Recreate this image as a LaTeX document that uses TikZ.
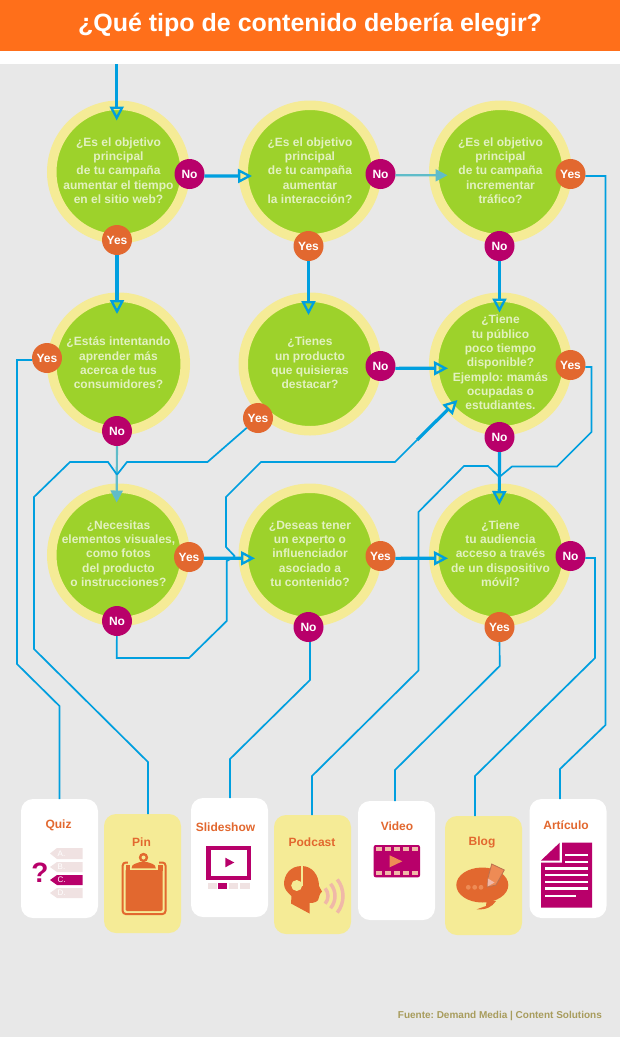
\documentclass[tikz,border=0pt]{standalone}
\usepackage{fontspec}
\setmainfont{Liberation Sans}
\frenchspacing
\usetikzlibrary{arrows.meta}
\definecolor{linkblue}{HTML}{009FDF}
\definecolor{linkteal}{HTML}{5FBCC9}
\definecolor{barorange}{HTML}{FF6F1A}
\definecolor{paper}{HTML}{E8E8E8}
\definecolor{leaf}{HTML}{9DD22B}
\definecolor{ring}{HTML}{F5EB96}
\definecolor{magenta}{HTML}{B8006A}
\definecolor{rust}{HTML}{E2682F}
\definecolor{paletag}{HTML}{F0E2E2}
\definecolor{peach}{HTML}{F0B8A8}
\definecolor{soft}{HTML}{EE8B55}
\definecolor{source}{HTML}{A89C5C}
\tikzset{
  ask/.style={circle,fill=leaf,draw=ring,line width=9.5pt,minimum size=133.5pt,inner sep=0pt,outer sep=0pt},
  asktext/.style={align=center,text=leaf!30!white,font=\fontsize{12}{14.33}\selectfont\bfseries,inner sep=0pt},
  yes/.style={circle,fill=rust,text=white,minimum size=30pt,inner sep=0pt,outer sep=0pt,font=\fontsize{12}{14}\selectfont\bfseries},
  no/.style={yes,fill=magenta},
  whitecard/.style={rectangle,rounded corners=12pt,fill=white,minimum width=77pt,minimum height=119pt,inner sep=0pt,outer sep=0pt},
  yellowcard/.style={whitecard,fill=ring},
  cardtext/.style={text=rust,font=\fontsize{12}{14}\selectfont\bfseries,inner sep=0pt},
  thin link/.style={draw=linkblue,line width=1.7pt,line join=miter},
  thick link/.style={draw=linkblue,line width=3.2pt,-{Triangle[open,length=14pt,width=14pt,line width=2.3pt]}},
  teal link/.style={draw=linkteal,line width=2.2pt,-{Triangle[length=12pt,width=12pt]}},
}
\begin{document}
\begin{tikzpicture}[x=1pt,y=-1pt]
\useasboundingbox (0,0) rectangle (620,1037);
% background and title
\fill[paper] (0,0) rectangle (620,1037);
\fill[white] (0,51) rectangle (620,64);
\fill[barorange] (0,0) rectangle (620,51);
\node[text=white,font=\fontsize{25}{30}\selectfont\bfseries,inner sep=0pt] (title) at (310,24.5) {¿Qué tipo de contenido debería elegir?};
% questions
\node[ask] (A) at (118.5,172) {};
\node[ask] (B) at (310,172) {};
\node[ask] (C) at (500.5,172) {};
\node[ask] (D) at (118.5,364) {};
\node[ask] (E) at (310,364) {};
\node[ask] (F) at (500.5,364) {};
\node[ask] (G) at (118.5,555) {};
\node[ask] (H) at (310,555) {};
\node[ask] (I) at (500.5,555) {};
\node[asktext] (textA) at (118.5,170.5) {¿Es el objetivo\\principal\\de tu campaña\\aumentar el tiempo\\en el sitio web?};
\node[asktext] (textB) at (310,170.5) {¿Es el objetivo\\principal\\de tu campaña\\aumentar\\la interacción?};
\node[asktext] (textC) at (500.5,170.5) {¿Es el objetivo\\principal\\de tu campaña\\incrementar\\tráfico?};
\node[asktext] (textD) at (118.5,363) {¿Estás intentando\\aprender más\\acerca de tus\\consumidores?};
\node[asktext] (textE) at (310,363) {¿Tienes\\un producto\\que quisieras\\destacar?};
\node[asktext] (textF) at (500.5,362.5) {¿Tiene\\tu público\\poco tiempo\\disponible?\\Ejemplo: mamás\\ocupadas o\\estudiantes.};
\node[asktext] (textG) at (118.5,553.7) {¿Necesitas\\elementos visuales,\\como fotos\\del producto\\o instrucciones?};
\node[asktext] (textH) at (310,553.7) {¿Deseas tener\\un experto o\\influenciador\\asociado a\\tu contenido?};
\node[asktext] (textI) at (500.5,553.7) {¿Tiene\\tu audiencia\\acceso a través\\de un dispositivo\\móvil?};
% answers
\node[no] (noA) at (189.5,174) {No};
\node[yes] (yesA) at (117,240) {Yes};
\node[no] (noB) at (380.5,174) {No};
\node[yes] (yesB) at (308.5,246) {Yes};
\node[yes] (yesC) at (570.5,174) {Yes};
\node[no] (noC) at (499.5,246) {No};
\node[yes] (yesD) at (47,358) {Yes};
\node[no] (noD) at (117,431) {No};
\node[no] (noE) at (380.5,366) {No};
\node[yes] (yesE) at (258,418) {Yes};
\node[yes] (yesF) at (570.5,365) {Yes};
\node[no] (noF) at (499.5,437) {No};
\node[yes] (yesG) at (189,557) {Yes};
\node[no] (noG) at (117,621) {No};
\node[yes] (yesH) at (380.5,556) {Yes};
\node[no] (noH) at (308.5,627) {No};
\node[no] (noI) at (570.5,556) {No};
\node[yes] (yesI) at (499.5,627) {Yes};
% results
\node[whitecard] (quiz) at (59.5,858.5) {};
\node[yellowcard] (pin) at (142.5,873.5) {};
\node[whitecard] (slideshow) at (229.5,857.5) {};
\node[yellowcard] (podcast) at (312.5,874.5) {};
\node[whitecard] (video) at (396.5,860.5) {};
\node[yellowcard] (blog) at (483.5,875.5) {};
\node[whitecard] (articulo) at (568,858.5) {};
\node[cardtext] (quizText) at (58.5,825) {Quiz};
\node[cardtext] (pinText) at (141.5,842) {Pin};
\node[cardtext] (slideshowText) at (225.5,827) {Slideshow};
\node[cardtext] (podcastText) at (312,842) {Podcast};
\node[cardtext] (videoText) at (397,826.5) {Video};
\node[cardtext] (blogText) at (482,842) {Blog};
\node[cardtext] (articuloText) at (566,825.5) {Artículo};
\node[text=source,font=\fontsize{10}{12}\selectfont\bfseries,inner sep=0pt,anchor=east] (fuente) at (602,1016) {Fuente: Demand Media | Content Solutions};
% ends of the arrows
\coordinate (start) at (116.7,64);
\coordinate (inA) at (116.7,120.5);
\coordinate (inB) at (252,176);
\coordinate (inC) at (447.5,175.3);
\coordinate (inD) at (117,314);
\coordinate (inE) at (308.5,315);
\coordinate (inFtop) at (499.5,312.5);
\coordinate (inFleft) at (448,368.3);
\coordinate (inFcorner) at (457.5,400);
\coordinate (inG) at (116.7,502.5);
\coordinate (inH) at (255,558.3);
\coordinate (inItop) at (499.3,505);
\coordinate (inIleft) at (448,558.3);
\coordinate (thickFrom) at (417,440);
\coordinate (mergeG) at (117,474.7);
\coordinate (mergeI) at (499.3,477);
\coordinate (mergeH) at (235,556.5);
\coordinate (outH) at (310,680);
\coordinate (bendQuiz) at (59.5,706);
\coordinate (bendPin) at (148,762);
\coordinate (bendSlideshow) at (230,759);
\coordinate (bendPodcast) at (312,776);
\coordinate (bendVideo) at (395,770);
\coordinate (bendBlog) at (475,776);
\coordinate (bendArticulo) at (560,769);
% main arrows
\draw[thick link] (start) -- (inA);
\draw[thick link] (noA.-8) -- (inB);
\draw[teal link] (noB.-5) -- (inC);
\draw[thick link] (yesA) -- (inD);
\draw[thick link] (yesB) -- (inE);
\draw[thick link] (noC) -- (inFtop);
\draw[thick link] (noE.-9) -- (inFleft);
\draw[teal link] (noD) -- (inG);
\draw[thick link] (yesG.-5) -- (inH);
\draw[thick link] (yesH.-9) -- (inIleft);
\draw[thick link] (noF) -- (inItop);
\draw[thick link] (thickFrom) -- (inFcorner);
% thin lines
\draw[thin link] (yesE) -- (207.5,462) -- (127,462) -- (mergeG);
\draw[thin link] (mergeG) -- (108,462) -- (70,462) -- (34,497) -- (34,649) -- (bendPin) -- (bendPin |- pin.north);
\draw[thin link] (yesD.188) -- (17,360) -- (17,664) -- (bendQuiz) -- (bendQuiz |- quiz.north);
\draw[thin link] (noG) -- (116.7,658) -- (189,658) -- (226.7,621) -- (226.7,561) -- (mergeH);
\draw[thin link] (mergeH) -- (226,547) -- (226,497) -- (261,462) -- (395,462) -- (thickFrom);
\draw[thin link] (noH.south -| outH) -- (outH) -- (bendSlideshow) -- (bendSlideshow |- slideshow.north);
\draw[thin link] (yesF.-8) -- (591.5,367) -- (591.5,432) -- (557,466.5) -- (512,466.5) -- (mergeI);
\draw[thin link] (mergeI) -- (488,466) -- (464,466) -- (418.5,512) -- (418.5,670.5) -- (bendPodcast) -- (bendPodcast |- podcast.north);
\draw[thin link] (yesI) -- (499.7,666) -- (bendVideo) -- (bendVideo |- video.north);
\draw[thin link] (noI.-8) -- (595,558) -- (595,658) -- (bendBlog) -- (bendBlog |- blog.north);
\draw[thin link] (yesC.-8) -- (605.5,176) -- (605.5,725) -- (bendArticulo) -- (bendArticulo |- articulo.north);
% quiz icon
\fill[paletag] (50,853.5) -- (57,848) -- (82.7,848) -- (82.7,859) -- (57,859) -- cycle;
\fill[paletag] (50,867) -- (57,862) -- (82.7,862) -- (82.7,872) -- (57,872) -- cycle;
\fill[magenta] (50,880) -- (57,875) -- (82.7,875) -- (82.7,885) -- (57,885) -- cycle;
\fill[paletag] (50,893) -- (57,888) -- (82.7,888) -- (82.7,898) -- (57,898) -- cycle;
\node[text=white,font=\fontsize{8}{9}\selectfont,inner sep=0pt] (tagA) at (61.5,853.5) {A.};
\node[text=white,font=\fontsize{8}{9}\selectfont,inner sep=0pt] (tagB) at (61.5,867) {B.};
\node[text=white,font=\fontsize{8}{9}\selectfont,inner sep=0pt] (tagC) at (61.5,880) {C.};
\node[text=white,font=\fontsize{8}{9}\selectfont,inner sep=0pt] (tagD) at (61.5,893) {D.};
\node[text=magenta,font=\fontsize{28}{30}\selectfont\bfseries,inner sep=0pt] (mark) at (40,873) {?};
% pin icon
\draw[rust,line width=2pt,rounded corners=3pt] (122.7,862.5) rectangle (165.5,914);
\fill[ring] (128,860) rectangle (159,868);
\fill[rust,rounded corners=1.5pt] (125.5,869) rectangle (162.5,911);
\fill[rust] (125.5,864.5) rectangle (129.5,871);
\fill[rust] (158,864.5) rectangle (162.5,871);
\fill[ring] (129.5,865) rectangle (158,869.5);
\fill[rust] (131.5,868.3) .. controls (131.5,863.5) and (137,863.5) .. (140,862) -- (147,862) .. controls (150,863.5) and (155.8,863.5) .. (155.8,868.3) -- cycle;
\fill[rust] (143.5,857.5) circle (4.7);
\fill[ring] (143.5,857.5) circle (2);
% slideshow icon
\fill[magenta] (206,846) rectangle (250.7,880);
\fill[white] (210.7,850.3) rectangle (246.7,876);
\fill[magenta] (225.3,857.7) -- (234.3,862.5) -- (225.3,867.3) -- cycle;
\fill[paletag] (208,883.3) rectangle (216.7,888.7);
\fill[magenta] (218.3,883.3) rectangle (227.3,888.7);
\fill[paletag] (229.3,883.3) rectangle (238.3,888.7);
\fill[paletag] (240,883.3) rectangle (250,888.7);
% podcast icon
\fill[rust] (301.7,866) .. controls (290,866) and (284,875) .. (284,884)
  .. controls (284,889) and (288,893) .. (291.5,896) -- (291,903.5) -- (309.5,913.5) -- (309.5,903)
  .. controls (314,903) and (319,902) .. (319,897) -- (320,894) -- (322,891.5) -- (319,886)
  .. controls (319,875) and (312,866) .. (301.7,866) -- cycle;
\fill[ring] (296.7,885.5) circle (5.5);
\fill[ring] (300.7,866) rectangle (302.7,885.5);
\draw[peach,line width=3.5pt] (316,896) ++(-40:12) arc (-40:40:12);
\draw[peach,line width=3.5pt] (316,896) ++(-40:19) arc (-40:40:19);
\draw[peach,line width=3.5pt] (316,896) ++(-38:27) arc (-38:38:27);
% video icon
\fill[magenta,rounded corners=2pt] (373.7,845) rectangle (420,877.3);
\fill[peach] (376,847) rectangle (382,851);
\fill[peach] (385,847) rectangle (391,851);
\fill[peach] (394,847) rectangle (400,851);
\fill[peach] (403,847) rectangle (409,851);
\fill[peach] (412,847) rectangle (418,851);
\fill[peach] (376,871.3) rectangle (382,875.3);
\fill[peach] (385,871.3) rectangle (391,875.3);
\fill[peach] (394,871.3) rectangle (400,875.3);
\fill[peach] (403,871.3) rectangle (409,875.3);
\fill[peach] (412,871.3) rectangle (418,875.3);
\fill[soft] (389.7,855.3) -- (402.3,861.3) -- (389.7,867.3) -- cycle;
% blog icon
\fill[rust] (482.3,885) ellipse (26 and 17.5);
\fill[rust] (486.7,900) -- (486,906) -- (476.7,909.3) .. controls (486,910) and (492,907) .. (496,901) -- cycle;
\fill[soft,draw=rust!60!gray,line width=.8pt] (491.7,864) -- (504.3,870) -- (496,885) -- (487.3,887) -- (488,878) -- cycle;
\fill[peach] (488,878.5) -- (494.5,882.5) -- (487.5,886.5) -- cycle;
\fill[soft] (468.3,887.3) circle (2.4);
\fill[soft] (474.7,887.3) circle (2.4);
\fill[soft] (481,887.3) circle (2.4);
% articulo icon
\fill[magenta] (562,842.7) -- (592,842.7) -- (592,907.7) -- (541,907.7) -- (541,862.5) -- (562,862.5) -- cycle;
\fill[magenta] (541,860.5) -- (559.7,842.7) -- (559.7,860.5) -- cycle;
\draw[white,line width=.8pt] (541,861.5) -- (560.7,861.5) -- (560.7,842.7);
\draw[white,line width=2.4pt] (565,855) -- (588.3,855);
\draw[white,line width=2.4pt] (565,861.7) -- (588.3,861.7);
\draw[white,line width=2.4pt] (545,868.3) -- (588.3,868.3);
\draw[white,line width=2.4pt] (545,875) -- (588.3,875);
\draw[white,line width=2.4pt] (545,881.7) -- (588.3,881.7);
\draw[white,line width=2.4pt] (545,888.3) -- (588.3,888.3);
\draw[white,line width=2.4pt] (545,895.7) -- (576,895.7);
\end{tikzpicture}
\end{document}
